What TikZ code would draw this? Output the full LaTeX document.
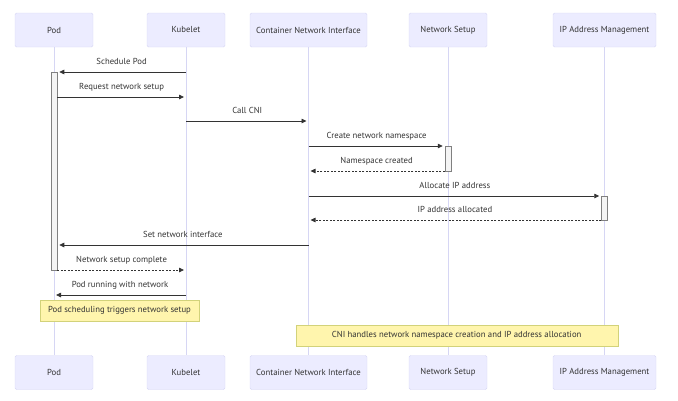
\documentclass[tikz,border=0pt]{standalone}
\usepackage{fontspec}
\setmainfont{PT Sans}
\usetikzlibrary{arrows.meta}
\definecolor{actorfill}{HTML}{ECECFF}
\definecolor{actorline}{HTML}{D6D6F4}
\definecolor{notefill}{HTML}{FFF5AD}
\definecolor{noteline}{HTML}{D2D27A}
\definecolor{ink}{HTML}{333333}
\definecolor{actfill}{HTML}{F4F4F4}

\begin{document}
\begin{tikzpicture}[x=1pt, y=-1pt, >={Triangle[length=5pt,width=4.5pt]},
  font=\fontsize{8.7}{10}\selectfont, text=ink,
  actor/.style={draw=actorline, fill=actorfill, rounded corners=1.5pt, minimum height=34pt, inner sep=0pt},
  life/.style={draw=actorline, line width=0.8pt},
  msg/.style={draw=ink, ->, line width=0.8pt, shorten >=2pt},
  reply/.style={msg, dash pattern=on 2pt off 1.5pt},
  lbl/.style={midway, above=1.5pt, text height=6pt, text depth=1.8pt},
  act/.style={draw=gray, fill=actfill, line width=0.5pt, minimum width=6pt, inner sep=0pt},
  note/.style={draw=noteline, fill=notefill, minimum height=20.7pt, inner sep=0pt}]
  \useasboundingbox (0,0) rectangle (678,400);

  % participants, top and bottom
  \node[actor, minimum width=78pt]  (pod)   at (54,30)    {Pod};
  \node[actor, minimum width=78pt]  (kub)   at (186,30)   {Kubelet};
  \node[actor, minimum width=117pt] (cni)   at (308.5,30) {Container Network Interface};
  \node[actor, minimum width=78pt]  (nset)  at (448,30)   {Network Setup};
  \node[actor, minimum width=103pt] (ipam)  at (604.5,30) {IP Address Management};
  \node[actor, minimum width=78pt]  (podB)  at (54,372.5)    {Pod};
  \node[actor, minimum width=78pt]  (kubB)  at (186,372.5)   {Kubelet};
  \node[actor, minimum width=117pt] (cniB)  at (308.5,372.5) {Container Network Interface};
  \node[actor, minimum width=78pt]  (nsetB) at (448,372.5)   {Network Setup};
  \node[actor, minimum width=103pt] (ipamB) at (604.5,372.5) {IP Address Management};

  \draw[life] (pod) -- (podB);
  \draw[life] (kub) -- (kubB);
  \draw[life] (cni) -- (cniB);
  \draw[life] (nset) -- (nsetB);
  \draw[life] (ipam) -- (ipamB);

  % activations
  \node[act, minimum height=198pt] (podA)  at (54,171)    {};
  \node[act, minimum height=25pt]  (nsetA) at (448,158.5) {};
  \node[act, minimum height=24pt]  (ipamA) at (604.5,208) {};

  % messages
  \draw[msg] (kub |- 0,72) -- (podA.east |- 0,72) node[lbl] {Schedule Pod};
  \draw[msg] (podA.east |- 0,97) -- (kub |- 0,97) node[lbl] {Request network setup};
  \draw[msg] (kub |- 0,121) -- (cni |- 0,121) node[lbl] {Call CNI};
  \draw[msg] (cni |- 0,146) -- (nsetA.west |- 0,146) node[lbl] {Create network namespace};
  \draw[reply] (nsetA.west |- 0,171) -- (cni |- 0,171) node[lbl] {Namespace created};
  \draw[msg] (cni |- 0,196) -- (ipamA.west |- 0,196) node[lbl] {Allocate IP address};
  \draw[reply] (ipamA.west |- 0,220) -- (cni |- 0,220) node[lbl] {IP address allocated};
  \draw[msg] (cni |- 0,245) -- (podA.east |- 0,245) node[lbl] {Set network interface};
  \draw[reply] (podA.east |- 0,270) -- (kub |- 0,270) node[lbl] {Network setup complete};
  \draw[msg] (kub |- 0,295) -- (pod |- 0,295) node[lbl] {Pod running with network};

  % notes
  \node[note, minimum width=159pt] (note1) at (119.5,310.4) {Pod scheduling triggers network setup};
  \node[note, minimum width=322pt] (note2) at (456.7,335.7) {CNI handles network namespace creation and IP address allocation};
\end{tikzpicture}
\end{document}
